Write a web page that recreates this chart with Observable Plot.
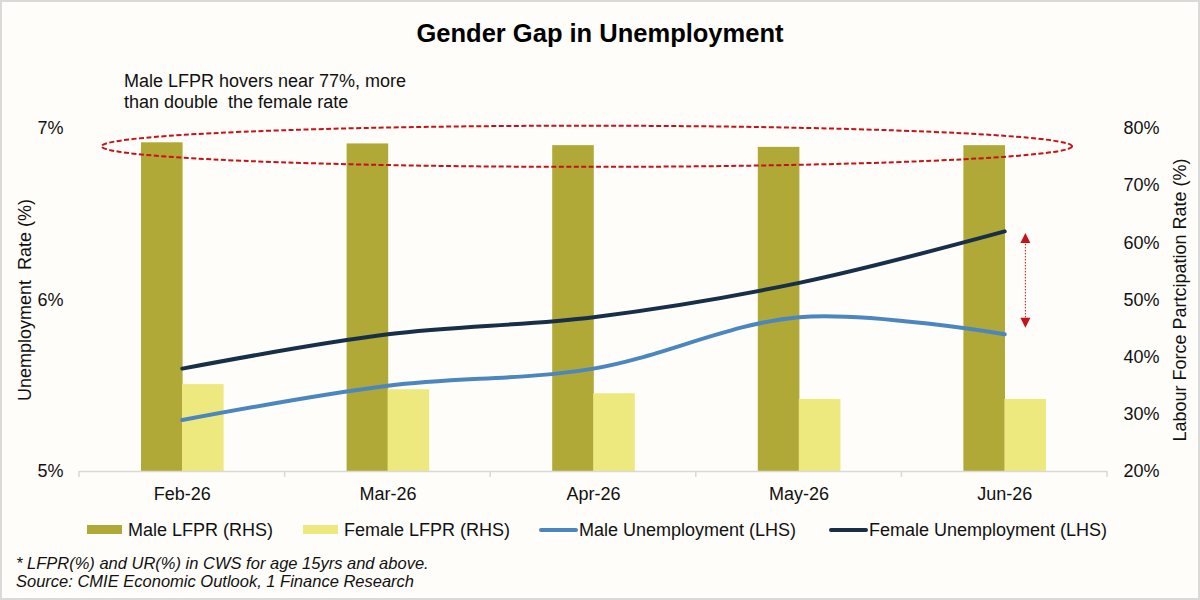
<!DOCTYPE html>
<html>
<head>
<meta charset="utf-8">
<script src="https://cdn.jsdelivr.net/npm/d3@7"></script>
<script src="https://cdn.jsdelivr.net/npm/@observablehq/plot@0.6"></script>
<style>
  body { margin: 0; background: #ffffff; }
  #wrap { position: relative; width: 1200px; height: 600px; background: #fefdf9; overflow: hidden;
          font-family: "Liberation Sans", Arial, sans-serif; color: #111; }
  #chart { position: absolute; left: 0; top: 0; }
  #frame { position: absolute; left: 0; top: 0; width: 1200px; height: 600px; box-sizing: border-box;
           border: 2px solid #d9d9d9; pointer-events: none; }
  .title { position: absolute; left: 0; width: 1200px; top: 18px; text-align: center; font-weight: bold;
           font-size: 25.5px; line-height: 30px; color: #000; }
  .note { position: absolute; left: 124px; top: 71px; font-size: 18px; line-height: 21px; color: #111; }
  .leg { position: absolute; top: 520px; font-size: 18px; line-height: 20px; white-space: nowrap; color: #111; }
  .sw { position: absolute; }
  .foot { position: absolute; left: 16px; top: 554px; font-size: 16.5px; line-height: 18px; font-style: italic; color: #111; }
</style>
</head>
<body>
<div id="wrap">
  <div id="chart"></div>
  <div class="title">Gender Gap in Unemployment</div>
  <div class="note">Male LFPR hovers near 77%, more<br>than double&nbsp; the female rate</div>
  <div id="legend"></div>
  <div class="foot">* LFPR(%) and UR(%) in CWS for age 15yrs and above.<br>Source: CMIE Economic Outlook, 1 Finance Research</div>
  <div id="frame"></div>
</div>
<script>
// ---- data ----
const months = ["Feb-26", "Mar-26", "Apr-26", "May-26", "Jun-26"];
const maleLFPR = [77.5, 77.3, 77.0, 76.7, 77.0];
const femaleLFPR = [35.2, 34.3, 33.6, 32.6, 32.6];
const maleUR = [5.3, 5.5, 5.6, 5.9, 5.8];
const femaleUR = [5.6, 5.8, 5.9, 6.1, 6.4];
const urTicks = [5, 6, 7];
const lfprTicks = [20, 30, 40, 50, 60, 70, 80];
const seriesNames = ["Male LFPR (RHS)", "Female LFPR (RHS)", "Male Unemployment (LHS)", "Female Unemployment (LHS)"];

const colors = { maleBar: "#b1a937", femaleBar: "#ede97f", maleLine: "#4c86be", femaleLine: "#172f48", red: "#c8101a" };

// map right-axis (LFPR) values into left-axis (UR) space
const urMin = urTicks[0], urMax = urTicks[urTicks.length - 1];
const lfMin = lfprTicks[0], lfMax = lfprTicks[lfprTicks.length - 1];
const toUR = v => urMin + (v - lfMin) * (urMax - urMin) / (lfMax - lfMin);
const fromUR = u => lfMin + (u - urMin) * (lfMax - lfMin) / (urMax - urMin);

const rows = months.map((m, i) => ({
  month: m, maleLFPR: maleLFPR[i], femaleLFPR: femaleLFPR[i], maleUR: maleUR[i], femaleUR: femaleUR[i]
}));

const SVGNS = "http://www.w3.org/2000/svg";
function el(name, attrs) {
  const e = document.createElementNS(SVGNS, name);
  for (const k in attrs) e.setAttribute(k, attrs[k]);
  return e;
}

// x-axis category boundary ticks
function boundaryTicks(index, scales) {
  const {x, y} = scales;
  const g = el("g", {});
  const bw = x.bandwidth();
  const y0 = y(urMin);
  const xs = months.map(m => x(m)).concat([x(months[months.length - 1]) + bw]);
  for (const xv of xs) g.appendChild(el("line", {x1: xv, x2: xv, y1: y0, y2: y0 + 6, stroke: "#d9d9d9", "stroke-width": 1.5}));
  return g;
}

// dashed ellipse around the male LFPR bar tops
function ellipseMark(index, scales) {
  const {x, y} = scales;
  const bw = x.bandwidth();
  const left = x(months[0]) + bw * 0.11;
  const right = x(months[months.length - 1]) + bw * 0.83;
  const top = y(toUR(80.4)), bottom = y(toUR(73.2));
  return el("ellipse", {
    cx: (left + right) / 2, cy: (top + bottom) / 2, rx: (right - left) / 2, ry: (bottom - top) / 2,
    fill: "none", stroke: colors.red, "stroke-width": 2, "stroke-dasharray": "5 2.5"
  });
}

// red dotted double arrow showing the June gap
function gapArrow(index, scales) {
  const {x, y} = scales;
  const bw = x.bandwidth();
  const last = months.length - 1;
  const xa = x(months[last]) + bw * 0.603;
  const yt = y(femaleUR[last]) + 2;
  const yb = y(maleUR[last]) - 6;
  const g = el("g", {});
  g.appendChild(el("line", {x1: xa, x2: xa, y1: yt + 8, y2: yb - 8, stroke: colors.red, "stroke-width": 1, "stroke-dasharray": "1.5 1.5"}));
  g.appendChild(el("path", {d: `M${xa},${yt}L${xa + 5},${yt + 10}L${xa - 5},${yt + 10}Z`, fill: colors.red}));
  g.appendChild(el("path", {d: `M${xa},${yb}L${xa + 5},${yb - 10}L${xa - 5},${yb - 10}Z`, fill: colors.red}));
  return g;
}

const chart = Plot.plot({
  width: 1200,
  height: 600,
  marginLeft: 79,
  marginRight: 93,
  marginTop: 128,
  marginBottom: 129,
  style: { background: "transparent", fontFamily: "'Liberation Sans', Arial, sans-serif", fontSize: "18px", color: "#111", overflow: "visible" },
  x: { type: "band", domain: months, padding: 0, round: false, axis: null },
  y: { domain: [urMin, urMax], axis: null },
  marks: [
    Plot.barY(rows, { x: "month", y1: () => urMin, y2: d => toUR(d.maleLFPR), fill: colors.maleBar, insetLeft: 62, insetRight: 102 }),
    Plot.barY(rows, { x: "month", y1: () => urMin, y2: d => toUR(d.femaleLFPR), fill: colors.femaleBar, insetLeft: 103, insetRight: 61 }),
    Plot.ruleY([urMin], { stroke: "#d9d9d9", strokeWidth: 1.5 }),
    boundaryTicks,
    Plot.axisY(urTicks, { anchor: "left", tickSize: 0, tickPadding: 16, tickFormat: d => d + "%", label: null, fontSize: 18 }),
    Plot.axisY(lfprTicks.map(toUR), { anchor: "right", tickSize: 0, tickPadding: 16, tickFormat: d => Math.round(fromUR(d)) + "%", label: null, fontSize: 18 }),
    Plot.axisX({ anchor: "bottom", tickSize: 0, tickPadding: 16, label: null, fontSize: 18 }),
    Plot.text(["Unemployment\u00a0 Rate (%)"], { frameAnchor: "left", dx: -54, rotate: -90, textAnchor: "middle", fontSize: 18, fill: "#111" }),
    Plot.text(["Labour Force Partcipation Rate (%)"], { frameAnchor: "right", dx: 73, rotate: -90, textAnchor: "middle", fontSize: 18, fill: "#111" }),
    Plot.line(rows, { x: "month", y: "femaleUR", stroke: colors.femaleLine, strokeWidth: 4, curve: "cardinal", tension: 0, strokeLinecap: "round" }),
    Plot.line(rows, { x: "month", y: "maleUR", stroke: colors.maleLine, strokeWidth: 4, curve: "cardinal", tension: 0, strokeLinecap: "round" }),
    ellipseMark,
    gapArrow
  ]
});
document.getElementById("chart").appendChild(chart);

// legend (HTML)
const legend = document.getElementById("legend");
const legItems = [
  { name: seriesNames[0], kind: "bar", color: colors.maleBar, sx: 87, tx: 128 },
  { name: seriesNames[1], kind: "bar", color: colors.femaleBar, sx: 303, tx: 344 },
  { name: seriesNames[2], kind: "line", color: colors.maleLine, sx: 539, tx: 579 },
  { name: seriesNames[3], kind: "line", color: colors.femaleLine, sx: 829, tx: 869 }
];
for (const it of legItems) {
  const sw = document.createElement("div");
  sw.className = "sw";
  sw.style.left = it.sx + "px";
  sw.style.background = it.color;
  if (it.kind === "bar") { sw.style.top = "525px"; sw.style.width = "35px"; sw.style.height = "9px"; }
  else { sw.style.top = "527.5px"; sw.style.width = "39px"; sw.style.height = "4px"; sw.style.borderRadius = "2px"; }
  legend.appendChild(sw);
  const t = document.createElement("div");
  t.className = "leg";
  t.style.left = it.tx + "px";
  t.textContent = it.name;
  legend.appendChild(t);
}
</script>
</body>
</html>
